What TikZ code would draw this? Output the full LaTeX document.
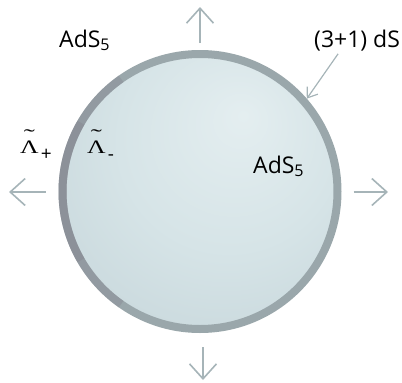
\documentclass[tikz,border=0pt]{standalone}
\usepackage{fontspec}
\setmainfont{Open Sans}
\newfontfamily\greekserif[FakeStretch=1.35]{Liberation Serif}
\usetikzlibrary{arrows.meta}
\definecolor{rimgray}{HTML}{9AA7AB}
\definecolor{rimdark}{HTML}{85848F}
\definecolor{arrowgray}{HTML}{A6B4B8}
\definecolor{glowin}{HTML}{E4EEF0}
\definecolor{glowmid}{HTML}{D6E4E7}
\definecolor{glowout}{HTML}{C2D2D7}
\pgfdeclareradialshading{sphereglow}{\pgfpoint{8bp}{14bp}}{color(0bp)=(glowin); color(20bp)=(glowmid); color(44bp)=(glowout); color(60bp)=(glowout)}
% stretched Lambda with a high tilde, then a lowered sign
\newcommand{\lamtilde}[1]{{\greekserif\fontsize{19}{19}\selectfont\ooalign{\hfil\raisebox{10.5pt}{\scalebox{1.3}[1]{˜}}\hfil\cr Λ\cr}}\hspace{2pt}\raisebox{-7pt}{\fontsize{19}{19}\selectfont #1}}
\begin{document}
\begin{tikzpicture}[
  expand/.style={color=arrowgray, line width=1.6pt, -{Straight Barb[length=15pt, width=27pt]}},
  pointer/.style={color=arrowgray, line width=1.2pt, -{Straight Barb[length=9pt, width=13pt]}},
  label/.style={font=\fontsize{23}{26}\selectfont, inner sep=0pt}]
\useasboundingbox (0pt, 0pt) rectangle (402pt, -383pt);
\node[circle, draw=rimgray, line width=8pt, shade, shading=sphereglow, minimum size=275pt, inner sep=0pt] (sphere) at (200pt, -191.5pt) {};
% darker rim on the left
\draw[color=rimdark, opacity=0.35, line width=8pt] (sphere.center) ++(125:137.5pt) arc (125:235:137.5pt);
\draw[color=rimdark, opacity=0.4, line width=8pt] (sphere.center) ++(150:137.5pt) arc (150:210:137.5pt);
% labels
\node[label, anchor=base west] (adsout) at (59pt, -47pt) {AdS\textsubscript{5}};
\node[label, anchor=base west] (adsin) at (253pt, -173pt) {AdS\textsubscript{5}};
\node[label, anchor=base west, inner sep=3pt] (ds) at (311pt, -47pt) {(3+1) dS};
\node[anchor=base west, inner sep=0pt] (lplus) at (20pt, -153pt) {\lamtilde{+}};
\node[anchor=base west, inner sep=0pt] (lminus) at (87pt, -153pt) {\lamtilde{-}};
% expansion arrows
\coordinate (up) at (200pt, -7pt);
\coordinate (down) at (203pt, -380pt);
\coordinate (left) at (9pt, -192pt);
\coordinate (right) at (388pt, -192pt);
\draw[expand] ([yshift=7pt]sphere.north) -- (up);
\draw[expand] ([shift={(3pt,-14pt)}]sphere.south) -- (down);
\draw[expand] ([shift={(-13pt,-0.5pt)}]sphere.west) -- (left);
\draw[expand] ([shift={(12pt,-0.5pt)}]sphere.east) -- (right);
\draw[pointer] ([xshift=-19pt]ds.south) -- (sphere.41);
\end{tikzpicture}
\end{document}
